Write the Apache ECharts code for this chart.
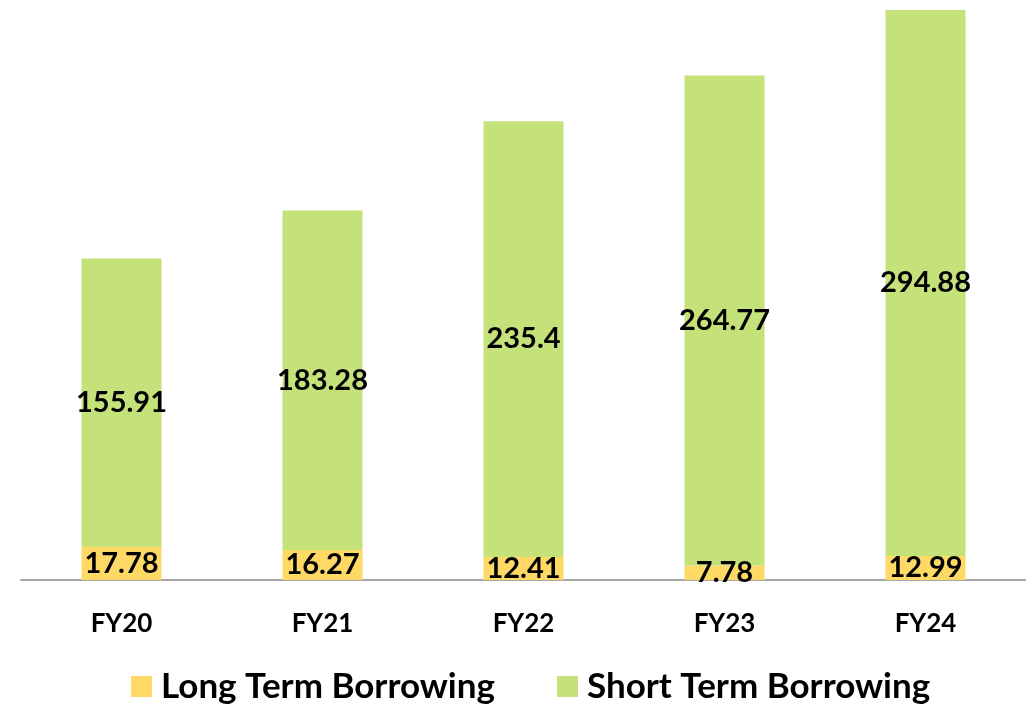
<!DOCTYPE html>
<html><head><meta charset="utf-8">
<script src="https://cdn.jsdelivr.net/npm/echarts@6/dist/echarts.min.js"></script>
<style>html,body{margin:0;padding:0;background:#fff}#c{width:1026px;height:712px}</style>
</head><body><div id="c"></div>
<script>
const categories = ['FY20','FY21','FY22','FY23','FY24'];
const longTerm = [17.78, 16.27, 12.41, 7.78, 12.99];
const shortTerm = [155.91, 183.28, 235.4, 264.77, 294.88];
const seriesNames = ['Long Term Borrowing', 'Short Term Borrowing'];

const FONT = 'Lato';
const chart = echarts.init(document.getElementById('c'));
const lbl = {show:true, position:'inside', color:'#000', fontFamily:FONT, fontWeight:'bold', fontSize:29};
chart.setOption({
  animation:false,
  grid:{left:21, right:0, top:10, bottom:132, containLabel:false},
  legend:{
    bottom:8, left:131, padding:0, itemWidth:21, itemHeight:21, itemGap:62,
    icon:'rect',
    textStyle:{fontFamily:FONT, fontWeight:'bold', fontSize:35, color:'#000', padding:[0,0,0,4]},
    data:seriesNames
  },
  xAxis:{type:'category', data:categories,
    axisLine:{lineStyle:{color:'#A6A6A6', width:2}},
    axisTick:{show:false},
    axisLabel:{color:'#000', fontFamily:FONT, fontWeight:'bold', fontSize:26, margin:31}
  },
  yAxis:{type:'value', min:0, max:'dataMax', show:false, splitLine:{show:false}},
  series:[
    {name:seriesNames[0], type:'bar', stack:'a', data:longTerm, barWidth:80,
      itemStyle:{color:'#FFD966'}, label:lbl},
    {name:seriesNames[1], type:'bar', stack:'a', data:shortTerm, barWidth:80,
      itemStyle:{color:'#C5E17A'}, label:lbl}
  ]
});
</script></body></html>
